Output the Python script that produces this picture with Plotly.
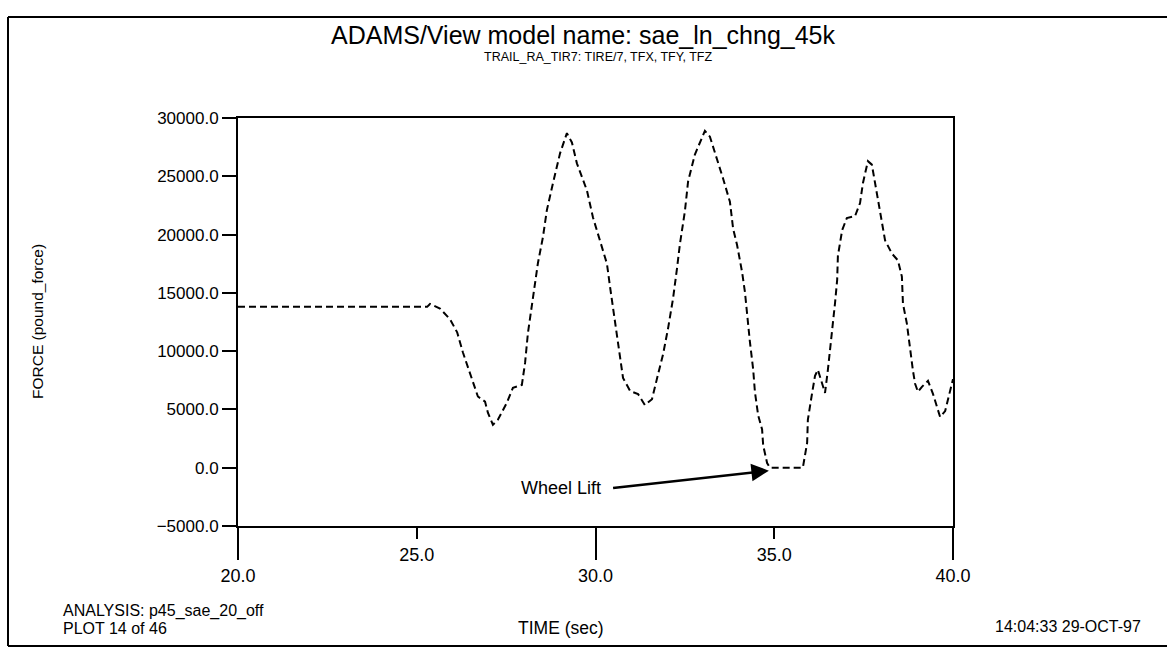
import plotly.graph_objects as go

# ---------------- data ----------------
time_s = [20.0, 25.29, 25.37, 25.65, 25.93, 26.13, 26.29, 26.43, 26.57, 26.71, 26.91, 26.99,
          27.13, 27.27, 27.52, 27.69, 27.94, 28.03, 28.11, 28.25, 28.39, 28.53, 28.64, 28.81,
          29.01, 29.20, 29.34, 29.48, 29.76, 29.93, 30.13, 30.32, 30.41, 30.49, 30.60, 30.69,
          30.77, 30.97, 31.19, 31.38, 31.58, 31.75, 31.89, 32.03, 32.17, 32.28, 32.36, 32.50,
          32.59, 32.78, 33.06, 33.20, 33.40, 33.57, 33.76, 33.85, 33.96, 34.10, 34.18, 34.24,
          34.32, 34.41, 34.46, 34.55, 34.66, 34.69, 34.80, 34.88, 35.80, 35.92, 35.94, 36.06,
          36.14, 36.22, 36.34, 36.42, 36.50, 36.56, 36.64, 36.70, 36.76, 36.78, 36.90, 37.03,
          37.26, 37.40, 37.48, 37.62, 37.73, 37.82, 37.90, 38.01, 38.10, 38.29, 38.46, 38.57,
          38.60, 38.71, 38.80, 38.88, 38.94, 39.02, 39.13, 39.30, 39.44, 39.55, 39.64, 39.78,
          39.92, 40.0]
force_lbf = [13800, 13800, 14050, 13650, 12740, 11620, 9900, 8690, 7310, 6110, 5670, 4725,
             3690, 4116, 5570, 6850, 7100, 8990, 11560, 14650, 17560, 19790, 22100, 24410,
             26990, 28700, 27900, 26110, 23790, 21460, 19480, 17500, 15440, 13720, 11490, 9770,
             7700, 6580, 6320, 5380, 5880, 8020, 9730, 11960, 14530, 17100, 19160, 21990,
             24560, 26870, 28900, 28400, 26510, 24790, 22810, 20490, 19110, 16790, 15070, 13090,
             10770, 8450, 6480, 4500, 3290, 1920, 400, 0, 0, 2140, 4110, 6430,
             7880, 8400, 7280, 6420, 8390, 10100, 11820, 14130, 16110, 18170, 20390, 21420,
             21580, 22700, 24410, 26300, 26000, 24400, 22940, 20960, 19500, 18380, 17780, 16400,
             14080, 12360, 10040, 8320, 7200, 6510, 6940, 7450, 6330, 5210, 4350, 4860,
             6570, 7600]

y_ticks = [-5000, 0, 5000, 10000, 15000, 20000, 25000, 30000]
x_ticks_long = [20, 30, 40]
x_ticks_short = [25, 35]

title_text = "ADAMS/View model name: sae_ln_chng_45k"
subtitle_text = "TRAIL_RA_TIR7: TIRE/7, TFX, TFY, TFZ"
y_label = "FORCE (pound_force)"
x_label = "TIME (sec)"
analysis_text = "ANALYSIS: p45_sae_20_off"
plot_text = "PLOT 14 of 46"
stamp_text = "14:04:33 29-OCT-97"
note_text = "Wheel Lift"
lift_arrow_tail = (30.45, -1750)
lift_arrow_head = (34.85, -250)

# ---------------- layout geometry ----------------
W, H = 1167, 650
ML, MR, MT, MB = 238, 214, 118, 124
PW, PH = W - ML - MR, H - MT - MB


def px(x):
    return (x - ML) / PW


def py(y):
    return (MT + PH - y) / PH


FONT = "Liberation Sans, Arial, sans-serif"
NARROW = "Liberation Sans Narrow, Arial Narrow, Liberation Sans, sans-serif"

fig = go.Figure()
fig.add_trace(go.Scatter(
    x=time_s, y=force_lbf, mode="lines",
    line=dict(color="black", width=2, dash="7px,4px"),
    showlegend=False, hoverinfo="skip",
))
# helper trace so the secondary (short-tick) x axis is drawn
fig.add_trace(go.Scatter(
    x=time_s, y=force_lbf, mode="lines", xaxis="x2",
    line=dict(color="rgba(0,0,0,0)", width=0),
    showlegend=False, hoverinfo="skip",
))

fig.update_layout(
    width=W, height=H,
    margin=dict(l=ML, r=MR, t=MT, b=MB, autoexpand=False),
    paper_bgcolor="white", plot_bgcolor="white",
    showlegend=False,
    xaxis=dict(
        range=[20, 40], tickvals=x_ticks_long, ticktext=[f"{v:.1f}" for v in x_ticks_long],
        ticks="outside", ticklen=32, tickwidth=1.5, tickcolor="black",
        showline=True, linecolor="black", linewidth=2, mirror=True,
        showgrid=False, zeroline=False,
        tickfont=dict(family=NARROW, size=18, color="black"),
    ),
    xaxis2=dict(
        range=[20, 40], overlaying="x", matches="x", side="bottom", anchor="y",
        tickvals=x_ticks_short, ticktext=[f"{v:.1f}" for v in x_ticks_short],
        ticks="outside", ticklen=12, tickwidth=1.5, tickcolor="black",
        showline=False, showgrid=False, zeroline=False,
        tickfont=dict(family=NARROW, size=18, color="black"),
    ),
    yaxis=dict(
        range=[-5000, 30000], tickvals=y_ticks, tickformat=".1f",
        ticks="outside", ticklen=14, tickwidth=1.5, tickcolor="black",
        showline=True, linecolor="black", linewidth=2, mirror=True,
        showgrid=False, zeroline=False,
        tickfont=dict(family=FONT, size=17, color="black"),
    ),
    title=dict(
        text=title_text, x=583 / W, xref="container", xanchor="center",
        y=1 - 35 / H, yref="container", yanchor="middle",
        font=dict(family=FONT, size=25, color="black"),
    ),
)

ann = [
    dict(text=subtitle_text, x=px(598), y=py(57), xanchor="center", yanchor="middle",
         font=dict(family=NARROW, size=12.5, color="black")),
    dict(text=y_label, x=px(37), y=py(322), xanchor="center", yanchor="middle", textangle=-90,
         font=dict(family=FONT, size=15.5, color="black")),
    dict(text=analysis_text, x=px(61), y=py(611), xanchor="left", yanchor="middle",
         font=dict(family=FONT, size=16, color="black")),
    dict(text=plot_text, x=px(61), y=py(628), xanchor="left", yanchor="middle",
         font=dict(family=FONT, size=16, color="black")),
    dict(text=x_label, x=px(561), y=py(628), xanchor="center", yanchor="middle",
         font=dict(family=NARROW, size=17.5, color="black")),
    dict(text=stamp_text, x=px(1143), y=py(626), xanchor="right", yanchor="middle",
         font=dict(family=FONT, size=16, color="black")),
]
for a in ann:
    a.update(xref="paper", yref="paper", showarrow=False)
    fig.add_annotation(**a)

# "Wheel Lift" note with arrow (data coordinates)
fig.add_annotation(
    x=lift_arrow_tail[0] - 0.25, y=lift_arrow_tail[1], xref="x", yref="y",
    text=note_text, showarrow=False, xanchor="right", yanchor="middle",
    font=dict(family=FONT, size=18, color="black"),
)
fig.add_annotation(
    x=lift_arrow_head[0], y=lift_arrow_head[1], xref="x", yref="y",
    ax=lift_arrow_tail[0], ay=lift_arrow_tail[1], axref="x", ayref="y",
    text="", showarrow=True, arrowhead=2, arrowsize=1.4, arrowwidth=2.5, arrowcolor="black",
    standoff=0, startstandoff=0,
)

# page frame of the scanned sheet (left, top and bottom edges only)
x_l, x_r = px(8), px(W)
y_t, y_b = py(17), py(646)
for (a0, b0, a1, b1) in [(x_l, y_t, x_r, y_t), (x_l, y_b, x_r, y_b), (x_l, y_t, x_l, y_b)]:
    fig.add_shape(type="line", xref="paper", yref="paper", x0=a0, y0=b0, x1=a1, y1=b1,
                  line=dict(color="black", width=2), layer="below")

fig.write_html(
    "out.html",
    config={"displayModeBar": False},
    post_script="document.body.style.margin='0';document.body.style.overflow='hidden';",
)
